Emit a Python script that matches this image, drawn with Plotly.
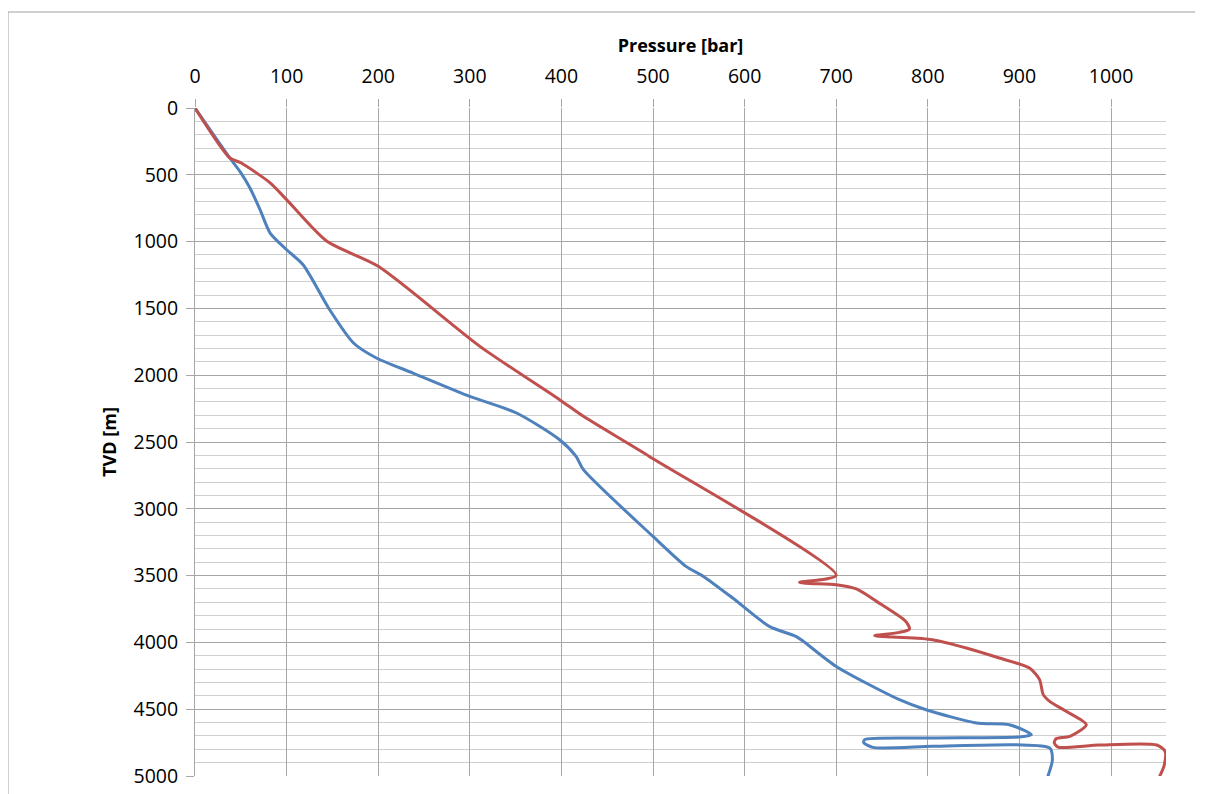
import plotly.graph_objects as go

# Blue curve (pressure, TVD)
blue_p = [0, 38, 49, 60, 71, 82, 100, 118, 147, 173, 198, 238, 300, 351, 398, 416, 424,
          500, 536, 555, 587, 627, 656, 664, 700, 769, 798, 853, 889, 913, 900, 805, 731,
          730, 740, 805, 896, 933, 936, 931]
blue_d = [0, 374, 475, 599, 761, 936, 1061, 1173, 1510, 1759, 1871, 1984, 2159, 2283, 2483, 2608, 2707,
          3207, 3431, 3506, 3668, 3880, 3955, 3992, 4180, 4429, 4504, 4603, 4616, 4691, 4708, 4716, 4728,
          4750, 4786, 4778, 4766, 4790, 4878, 5003]

# Red curve (pressure, TVD)
red_p = [0, 38, 50, 82, 100, 144, 200, 311, 398, 424, 496, 700, 660, 700, 722, 744,
         776, 780, 769, 742, 762, 805, 842, 878, 911, 922, 926, 933, 951, 973, 955, 940,
         938, 942, 987, 1050, 1059, 1058, 1053]
red_d = [0, 374, 410, 560, 686, 998, 1185, 1784, 2183, 2308, 2608, 3498, 3551, 3568, 3600, 3693,
         3843, 3900, 3925, 3950, 3960, 3980, 4042, 4117, 4192, 4279, 4391, 4441, 4516, 4616, 4703, 4721,
         4752, 4783, 4768, 4768, 4815, 4920, 5003]

x_title = "Pressure [bar]"
y_title = "TVD [m]"

fig = go.Figure()
fig.add_trace(go.Scatter(x=blue_p, y=blue_d, mode="lines",
                         line=dict(color="#4F81BD", width=3, shape="spline", smoothing=0.7),
                         showlegend=False))
fig.add_trace(go.Scatter(x=red_p, y=red_d, mode="lines",
                         line=dict(color="#C0504D", width=3, shape="spline", smoothing=0.7),
                         showlegend=False))

font_family = "Open Sans, Liberation Sans, sans-serif"
frame = dict(color="#a0a0a0", width=1)

fig.update_layout(
    width=1200, height=786,
    margin=dict(l=187, r=42, t=100, b=18),
    paper_bgcolor="white", plot_bgcolor="white",
    font=dict(family=font_family, color="black", size=19.5),
    xaxis=dict(
        side="top", range=[0, 1060], tick0=0, dtick=100,
        showgrid=True, gridcolor="#a6a6a6", gridwidth=1,
        zeroline=False, showline=False,
        ticks="outside", ticklen=8, tickcolor="#a6a6a6",
        ticklabelstandoff=8,
        tickfont=dict(size=19.5),
        title=dict(text="<b>" + x_title + "</b>", font=dict(size=18), standoff=4),
    ),
    yaxis=dict(
        range=[5000, 0], tick0=0, dtick=500,
        automargin="left",
        showgrid=True, gridcolor="#a6a6a6", gridwidth=1,
        minor=dict(dtick=100, showgrid=True, gridcolor="#cfcfcf", gridwidth=1),
        zeroline=False, showline=True, linecolor="#a6a6a6", linewidth=1,
        ticks="outside", ticklen=8, tickcolor="#a6a6a6",
        ticklabelstandoff=4,
        tickfont=dict(size=19.5),
        title=dict(text="<b>" + y_title + "</b>", font=dict(size=18), standoff=12),
    ),
    shapes=[
        dict(type="line", xref="paper", yref="paper",
             x0=-0.1926, x1=-0.1926, y0=-0.1, y1=1.1437, line=frame),
        dict(type="line", xref="paper", yref="paper",
             x0=-0.1926, x1=1.03, y0=1.1437, y1=1.1437, line=frame),
    ],
)

fig.write_html("out.html")
